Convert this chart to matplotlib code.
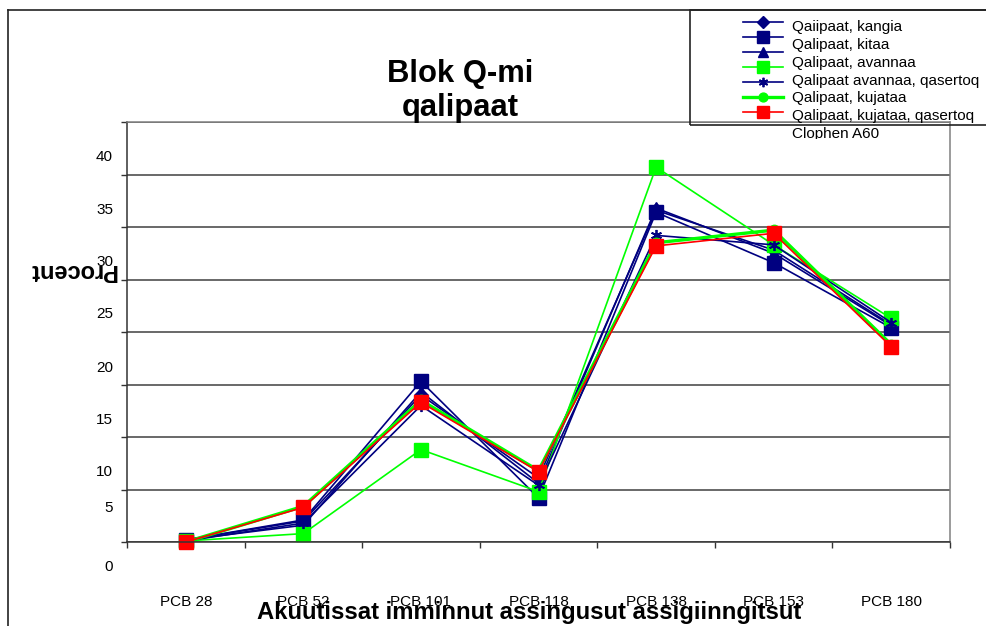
import matplotlib
matplotlib.use("Agg")
import matplotlib.pyplot as plt
from matplotlib.patches import Rectangle
from matplotlib.lines import Line2D
from matplotlib.transforms import Bbox, ScaledTranslation, blended_transform_factory
import numpy as np

plt.rcParams['font.family'] = ['Liberation Sans', 'DejaVu Sans']

categories = ["PCB 28", "PCB 52", "PCB 101", "PCB 118", "PCB 138", "PCB 153", "PCB 180"]

kangia          = [0.2, 2.0, 14.0, 6.1, 31.6, 27.8, 20.7]
kitaa_sq        = [0.2, 2.1, 15.3, 4.2, 31.4, 26.6, 20.4]
kitaa_tri       = [0.2, 1.6, 14.3, 5.6, 31.8, 27.5, 20.6]
avannaa         = [0.1, 0.8, 8.8, 4.8, 35.7, 28.3, 21.3]
avannaa_qas     = [0.1, 1.8, 13.0, 5.4, 29.2, 28.3, 20.9]
kujataa         = [0.0, 3.4, 13.5, 6.8, 28.5, 29.7, 18.8]
kujataa_qas     = [0.0, 3.3, 13.3, 6.7, 28.2, 29.4, 18.6]

series_labels = ["Qaiipaat, kangia", "Qalipaat, kitaa", "Qalipaat, kitaa",
                 "Qalipaat, avannaa", "Qalipaat avannaa, qasertoq",
                 "Qalipaat, kujataa", "Qalipaat, kujataa, qasertoq Clophen A60"]
# legend text as shown (rows overflow the handles in the original)
legend_text_lines = ["Qaiipaat, kangia", "Qalipaat, kitaa", "Qalipaat, avannaa",
                     "Qalipaat avannaa, qasertoq", "Qalipaat, kujataa",
                     "Qalipaat, kujataa, qasertoq", "Clophen A60"]

ytick_vals = [0, 5, 10, 15, 20, 25, 30, 35, 40]
ytick_labels = ["0", "5", "10", "15", "20", "25", "30", "35", "40"]
ytick_label_offsets_px = [25, 18, 35, 36, 36, 35, 35, 35, 35]

title = "Blok Q-mi\nqalipaat"
xlabel = "Akuutissat imminnut assingusut assigiinngitsut"
ylabel = "Procent"

NAVY = "#000080"
LIME = "#00FF00"
RED = "#FF0000"

W, H = 986, 626
fig = plt.figure(figsize=(W/100, H/100), dpi=100)
ax = fig.add_axes([127/W, (H-542)/H, (950-127)/W, (542-122)/H])

x = np.arange(len(categories))
styles = [
    (kangia, dict(color=NAVY, marker='D', ms=7, lw=1.2)),
    (kitaa_sq, dict(color=NAVY, marker='s', ms=10, lw=1.2)),
    (kitaa_tri, dict(color=NAVY, marker='^', ms=8, lw=1.2)),
    (avannaa, dict(color=LIME, marker='s', ms=9.5, lw=1.2)),
    (avannaa_qas, dict(color=NAVY, marker=(6, 2, 0), ms=8, lw=1.2, mew=1.3)),
    (kujataa, dict(color=LIME, marker='o', ms=7.5, lw=2.4)),
    (kujataa_qas, dict(color=RED, marker='s', ms=10, lw=1.2)),
]
handles = []
for (vals, st), lab in zip(styles, series_labels):
    h, = ax.plot(x, vals, label=lab, clip_on=False, **st)
    handles.append(h)

ax.set_xlim(-0.5, len(categories) - 0.5)
ax.set_ylim(0, 40)
ax.set_yticks(ytick_vals)
ax.set_yticklabels([])
ax.tick_params(axis='y', length=4, width=1, color='#333333', direction='out')
ax.yaxis.grid(True, color='#404040', lw=1.1)
ax.set_axisbelow(True)

ax.set_xticks(x)
ax.set_xticklabels(categories, fontsize=11)
ax.tick_params(axis='x', which='major', length=0, pad=38)
ax.set_xticks(np.arange(len(categories) + 1) - 0.5, minor=True)
ax.tick_params(axis='x', which='minor', length=4, width=1, color='#333333', direction='out')

for s in ['left', 'bottom']:
    ax.spines[s].set_color('#333333')
    ax.spines[s].set_linewidth(1.1)
for s in ['top', 'right']:
    ax.spines[s].set_color('#808080')
    ax.spines[s].set_linewidth(1.1)

# y tick labels (offset below their gridlines)
trans = blended_transform_factory(ax.transAxes, ax.transData)
for v, lab, off in zip(ytick_vals, ytick_labels, ytick_label_offsets_px):
    t = trans + ScaledTranslation(-14/100, -off/100, fig.dpi_scale_trans)
    ax.text(0, v, lab, transform=t, ha='right', va='center', fontsize=11, clip_on=False)

fig.text(460/W, 1 - 91/H, title, ha='center', va='center', fontsize=22.3,
         fontweight='bold', linespacing=1.15)
fig.text(529/W, 1 - 612/H, xlabel, ha='center', va='center', fontsize=17.2, fontweight='bold')
fig.text(72/W, 1 - 271/H, ylabel, ha='center', va='center', fontsize=17,
         fontweight='bold', rotation=180)

# chart area border
fig.add_artist(Line2D([8/W, 8/W], [0, 1 - 10/H], color='#222222', lw=1.2, transform=fig.transFigure))
fig.add_artist(Line2D([8/W, 1], [1 - 10/H, 1 - 10/H], color='#222222', lw=1.2, transform=fig.transFigure))

# legend: handles column
leg = fig.legend(handles=handles, labels=[" "] * len(handles), loc='upper left',
                 bbox_to_anchor=(743/W, 1 - 16.5/H), frameon=False, fontsize=11,
                 borderpad=0, borderaxespad=0, handlelength=2.6, handletextpad=0.6,
                 labelspacing=0.06, markerscale=0.85)
# legend: text column (overflowing rows, clipped like the original)
clipbox = Bbox([[690, H - 139], [W, H - 10]])
for i, line in enumerate(legend_text_lines):
    t = fig.text(792/W, 1 - (27.5 + 17.7 * i)/H, line, ha='left', va='center', fontsize=11)
    t.set_clip_box(clipbox)
    t.set_clip_on(True)
fig.add_artist(Rectangle((690/W, 1 - 125/H), (W - 690)/W + 0.01, (125 - 10)/H,
                         transform=fig.transFigure, fill=False, ec='#222222', lw=1.2))

fig.savefig("out.png", dpi=100)
